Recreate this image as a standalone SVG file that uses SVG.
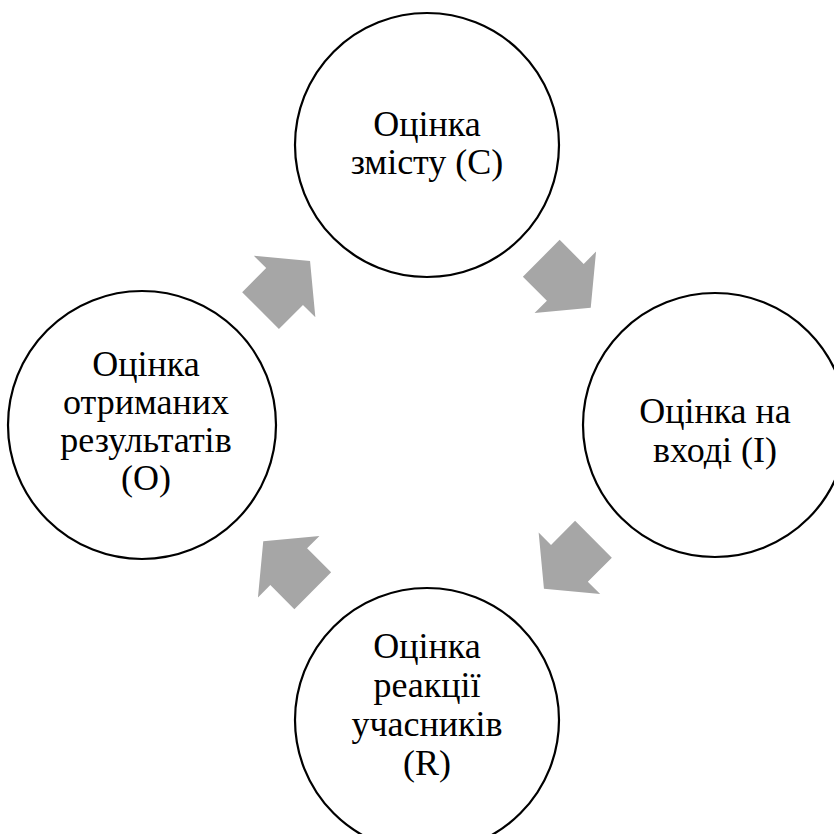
<svg xmlns="http://www.w3.org/2000/svg" width="834" height="834" viewBox="0 0 834 834">
<defs>
<style>
.ring{fill:#fff;stroke:#000;stroke-width:2.2}
.lbl{font-family:"Liberation Serif","Times New Roman",serif;font-size:36px;fill:#000;text-anchor:middle}
.arr{fill:#a6a6a6}
</style>
<polygon id="ar" points="-35,-26 -1,-26 -1,-43.5 35,0 -1,43.5 -1,26 -35,26"/>
</defs>
<rect width="834" height="834" fill="#fff"/>
<g id="connectors">
<use href="#ar" class="arr" transform="translate(285.3,285.8) rotate(-45)"/>
<use href="#ar" class="arr" transform="translate(566,283) rotate(45)"/>
<use href="#ar" class="arr" transform="translate(568.7,564) rotate(135)"/>
<use href="#ar" class="arr" transform="translate(288,566) rotate(-135)"/>
</g>
<g id="node-c">
<circle class="ring" cx="427" cy="145" r="132"/>
<text class="lbl" x="427" y="136">Оцінка</text>
<text class="lbl" x="427" y="174">змісту (С)</text>
</g>
<g id="node-i">
<circle class="ring" cx="715" cy="425" r="132"/>
<text class="lbl" x="715" y="423">Оцінка на</text>
<text class="lbl" x="715" y="462">вході (І)</text>
</g>
<g id="node-r">
<circle class="ring" cx="427" cy="720" r="132"/>
<text class="lbl" x="427" y="658">Оцінка</text>
<text class="lbl" x="427" y="697">реакції</text>
<text class="lbl" x="427" y="736">учасників</text>
<text class="lbl" x="427" y="775">(R)</text>
</g>
<g id="node-o">
<circle class="ring" cx="142" cy="425" r="134"/>
<text class="lbl" x="146" y="376">Оцінка</text>
<text class="lbl" x="146" y="414">отриманих</text>
<text class="lbl" x="146" y="452">результатів</text>
<text class="lbl" x="146" y="490">(О)</text>
</g>
</svg>
